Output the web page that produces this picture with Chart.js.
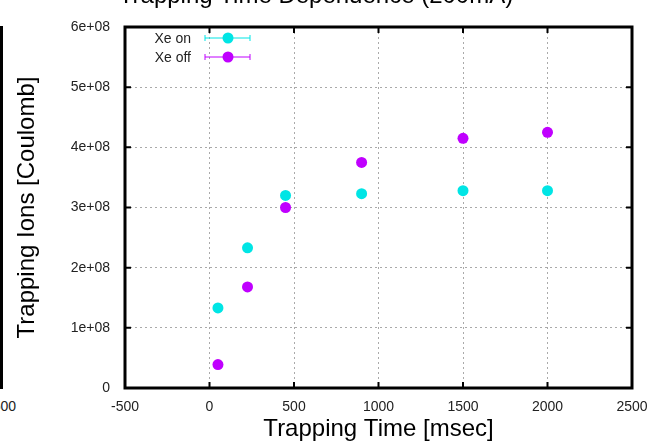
<!DOCTYPE html>
<html>
<head>
<meta charset="utf-8">
<title>Trapping Time Dependence</title>
<script src="https://cdn.jsdelivr.net/npm/chart.js@4.4.1/dist/chart.umd.min.js"></script>
<style>
  html, body { margin: 0; padding: 0; background: #fff; overflow: hidden; }
  body { width: 652px; height: 444px; position: relative; font-family: "Liberation Sans", Arial, sans-serif; }
  #wrap { position: absolute; left: 0; top: -20px; width: 652px; height: 464px; }
  /* right edge of the neighbouring panel */
  #prevPanel { position: absolute; left: -1px; top: 26px; width: 0; height: 363px; border-left: 4px solid #000; }
  #prevTick { position: absolute; right: 636px; top: 398px; font-size: 14px; color: #222; }
</style>
</head>
<body>
<div id="prevPanel"></div>
<span id="prevTick">2500</span>
<div id="wrap"><canvas id="chart" width="652" height="464"></canvas></div>
<script>
// Trapping time in msec
const trapTimes = [50, 225, 450, 900, 1500, 2000];
// Trapped ions [Coulomb], with and without Xe
const ionsXeOn = [1.33e8, 2.33e8, 3.2e8, 3.23e8, 3.28e8, 3.28e8];
const ionsXeOff = [0.39e8, 1.68e8, 3.0e8, 3.75e8, 4.15e8, 4.25e8];
const seriesLabels = ['Xe on', 'Xe off'];
const seriesColors = ['#00e5e5', '#c000ff'];

const FONT = '"Liberation Sans", Arial, sans-serif';

function toPoints(xs, ys) {
  return xs.map((x, i) => ({ x: x, y: ys[i] }));
}

// Frame, inward tick marks and the key with error-bar samples
const framePlugin = {
  id: 'frame',
  afterDraw(chart) {
    const ctx = chart.ctx;
    const a = chart.chartArea;
    const xs = chart.scales.x;
    const ys = chart.scales.y;
    ctx.save();
    ctx.strokeStyle = '#000';
    ctx.lineWidth = 2;
    xs.ticks.forEach(t => {
      const px = xs.getPixelForValue(t.value);
      if (px <= a.left + 1 || px >= a.right - 1) return;
      ctx.beginPath();
      ctx.moveTo(px, a.bottom); ctx.lineTo(px, a.bottom - 6);
      ctx.moveTo(px, a.top); ctx.lineTo(px, a.top + 6);
      ctx.stroke();
    });
    ys.ticks.forEach(t => {
      const py = ys.getPixelForValue(t.value);
      if (py <= a.top + 1 || py >= a.bottom - 1) return;
      ctx.beginPath();
      ctx.moveTo(a.left, py); ctx.lineTo(a.left + 6, py);
      ctx.moveTo(a.right, py); ctx.lineTo(a.right - 6, py);
      ctx.stroke();
    });
    ctx.lineWidth = 3;
    ctx.strokeRect(a.left, a.top, a.right - a.left, a.bottom - a.top);

    // key
    ctx.font = '14px ' + FONT;
    ctx.textAlign = 'right';
    ctx.textBaseline = 'middle';
    chart.data.datasets.forEach((ds, i) => {
      const y = a.top + 11 + i * 19;
      ctx.fillStyle = '#222';
      ctx.fillText(ds.label, a.left + 66, y + 1);
      ctx.strokeStyle = ds.backgroundColor;
      ctx.lineWidth = 1;
      ctx.beginPath();
      ctx.moveTo(a.left + 80, y); ctx.lineTo(a.left + 125, y);
      ctx.moveTo(a.left + 80, y - 3); ctx.lineTo(a.left + 80, y + 3);
      ctx.moveTo(a.left + 125, y - 3); ctx.lineTo(a.left + 125, y + 3);
      ctx.stroke();
      ctx.fillStyle = ds.backgroundColor;
      ctx.beginPath();
      ctx.arc(a.left + 103, y, 5.5, 0, Math.PI * 2);
      ctx.fill();
    });
    ctx.restore();
  }
};

new Chart(document.getElementById('chart'), {
  type: 'scatter',
  data: {
    datasets: [
      {
        label: seriesLabels[0],
        data: toPoints(trapTimes, ionsXeOn),
        backgroundColor: seriesColors[0],
        borderWidth: 0,
        pointRadius: 5.5,
        pointHoverRadius: 5.5
      },
      {
        label: seriesLabels[1],
        data: toPoints(trapTimes, ionsXeOff),
        backgroundColor: seriesColors[1],
        borderWidth: 0,
        pointRadius: 5.5,
        pointHoverRadius: 5.5
      }
    ]
  },
  options: {
    responsive: false,
    animation: false,
    layout: { padding: { left: 0, right: 20, top: 0, bottom: 0 } },
    plugins: {
      legend: { display: false },
      tooltip: { enabled: false },
      title: {
        display: true,
        text: 'Trapping Time Dependence (200mA)',
        color: '#000',
        font: { family: FONT, size: 24, weight: 'normal' },
        padding: { top: 2, bottom: 16.2 }
      }
    },
    scales: {
      x: {
        type: 'linear',
        min: -500,
        max: 2500,
        afterFit(scale) {
          scale.height = 56;
          scale.paddingLeft = 0;
          scale.paddingRight = 0;
        },
        ticks: {
          stepSize: 500,
          color: '#222',
          padding: 11,
          maxRotation: 0,
          font: { family: FONT, size: 14 },
          callback: v => String(v)
        },
        grid: { color: '#aaa', lineWidth: 1, drawTicks: false },
        border: { display: false, dash: [2, 3] },
        title: {
          display: true,
          text: 'Trapping Time [msec]',
          color: '#000',
          font: { family: FONT, size: 24 },
          padding: { top: 0, bottom: 0 }
        }
      },
      y: {
        type: 'linear',
        min: 0,
        max: 6e8,
        afterFit(scale) {
          scale.width = 125;
          scale.paddingTop = 0;
          scale.paddingBottom = 0;
        },
        ticks: {
          stepSize: 1e8,
          color: '#222',
          padding: 15,
          font: { family: FONT, size: 14 },
          callback: v => v === 0 ? '0' : (v / 1e8) + 'e+08'
        },
        grid: { color: '#aaa', lineWidth: 1, drawTicks: false },
        border: { display: false, dash: [2, 3] },
        title: {
          display: true,
          text: 'Trapping Ions [Coulomb]',
          color: '#000',
          font: { family: FONT, size: 24 },
          padding: { top: 13, bottom: 0 }
        }
      }
    }
  },
  plugins: [framePlugin]
});
</script>
</body>
</html>
